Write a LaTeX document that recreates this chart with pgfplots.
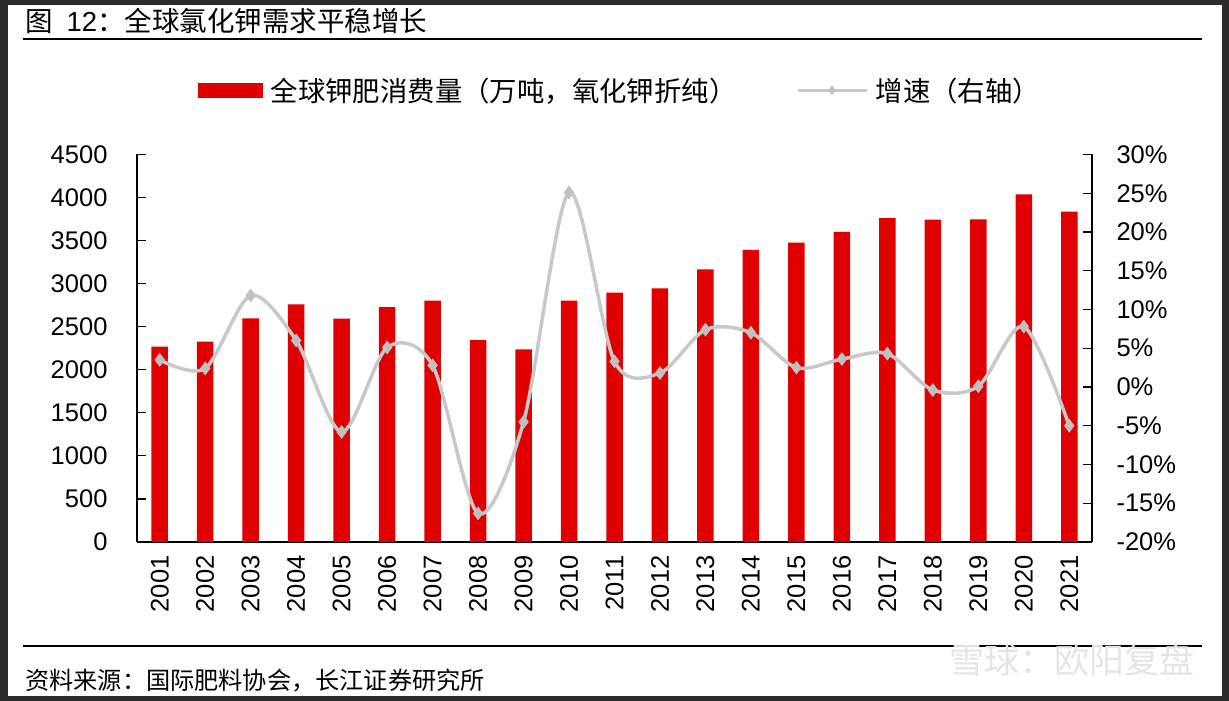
\documentclass[border=0pt]{standalone}
\usepackage{fontspec}
\setmainfont{Liberation Sans}
\newfontfamily\cjk{Noto Sans CJK SC}
\usepackage{pgfplots}
\usepackage{pgfplotstable}
\pgfplotsset{compat=1.18}

\definecolor{barred}{RGB}{224,0,0}
\definecolor{linegray}{RGB}{200,200,200}
\definecolor{markgray}{RGB}{192,192,192}
\definecolor{framedark}{RGB}{43,43,43}

% global consumption (10k t K2O) and growth (%)
\pgfplotstableread{
year cons  growth
1    2270  3.5
2    2326  2.4
3    2598  11.8
4    2760  6.0
5    2594  -5.8
6    2729  5.1
7    2803  2.8
8    2343  -16.3
9    2238  -4.5
10   2803  25.1
11   2896  3.3
12   2946  1.8
13   3167  7.4
14   3391  7.0
15   3476  2.5
16   3600  3.6
17   3760  4.3
18   3743  -0.4
19   3748  0.1
20   4038  7.8
21   3836  -5.0
}\datatable

\begin{document}
\begin{tikzpicture}
% page frame
\fill[framedark] (0pt,0pt) rectangle (1229pt,701pt);
\fill[white] (8pt,5pt) rectangle (1222pt,696pt);
\draw[line width=2pt] (23pt,662pt) -- (1202pt,662pt);
\draw[line width=1.5pt] (23pt,55pt) -- (1202pt,55pt);

\node[anchor=west, inner sep=0] at (25pt,680pt)
  {\fontsize{27.5}{30}\selectfont{\cjk 图}\hspace{14pt}12{\cjk ：全球氯化钾需求平稳增长}};
\node[anchor=west, inner sep=0] at (25pt,20pt)
  {\fontsize{24.2}{28}\selectfont\cjk 资料来源：国际肥料协会，长江证券研究所};
\node[anchor=east, inner sep=0, text=gray!20] at (1195pt,41pt)
  {\fontsize{35}{38}\selectfont\cjk 雪球：欧阳复盘};

\pgfplotsset{
  common/.style={
    at={(137pt,159pt)}, anchor=south west,
    scale only axis, width=955pt, height=387.5pt,
    xmin=0.5, xmax=21.5,
    tick align=inside,
    axis line style={black, line width=1.3pt},
    every tick/.style={black, line width=1.2pt},
    major tick length=9pt,
    minor tick length=8pt,
    tick label style={font=\fontsize{25.5}{30}\selectfont},
  },
}

\begin{axis}[
  common,
  ymin=0, ymax=4500,
  axis x line*=bottom, axis y line*=left,
  ytick={0,500,...,4500},
  yticklabels={0,500,1000,1500,2000,2500,3000,3500,4000,4500},
  yticklabel shift=26pt,
  xtick={1,...,21},
  xticklabels={2001,2002,2003,2004,2005,2006,2007,2008,2009,2010,2011,2012,2013,2014,2015,2016,2017,2018,2019,2020,2021},
  xtick style={draw=none},
  minor xtick={1.5,2.5,...,20.5},
  xticklabel style={rotate=90, anchor=east},
  xticklabel shift=10pt,
]
\addplot[ybar, bar width=16.5pt, fill=barred, draw=none] table[x=year, y=cons] {\datatable};
\end{axis}

\begin{axis}[
  common,
  ymin=-20, ymax=30,
  axis x line=none, axis y line*=right,
  ytick={-20,-15,...,30},
  yticklabels={-20\%,-15\%,-10\%,-5\%,0\%,5\%,10\%,15\%,20\%,25\%,30\%},
  yticklabel style={anchor=west},
  yticklabel shift=21pt,
  legend columns=2,
  legend style={
    at={(0.506,1.166)}, anchor=center, draw=none, fill=none,
    font=\fontsize{27.4}{30}\selectfont\cjk,
    /tikz/every even column/.append style={column sep=58pt},
  },
]
\addlegendimage{legend image code/.code={\fill[barred] (0pt,-7pt) rectangle (64pt,7pt); \path (70pt,0pt);}}
\addlegendentry{全球钾肥消费量（万吨，氧化钾折纯）}
\addplot[smooth, color=linegray, line width=3.5pt,
  mark=diamond*, mark size=6.5pt, mark options={fill=markgray, draw=markgray, line width=0.5pt},
  legend image code/.code={\draw[linegray, line width=3pt, mark=diamond*, mark size=4.5pt,
    mark options={fill=markgray, draw=markgray, line width=0.5pt}, mark repeat=2, mark phase=2]
    plot coordinates {(0pt,0pt) (34pt,0pt) (69pt,0pt)}; \path (74pt,0pt);}]
  table[x=year, y=growth] {\datatable};
\addlegendentry{增速（右轴）}
\end{axis}
\end{tikzpicture}
\end{document}
